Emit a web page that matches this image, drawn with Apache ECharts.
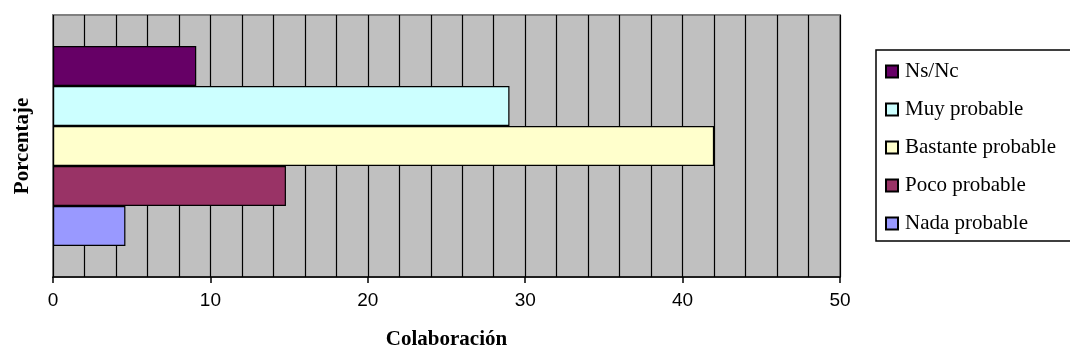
<!DOCTYPE html>
<html>
<head>
<meta charset="utf-8">
<script src="https://cdn.jsdelivr.net/npm/echarts@6/dist/echarts.min.js"></script>
<style>
html,body{margin:0;padding:0;background:#fff;}
#c{width:1070px;height:358px;}
</style>
</head>
<body>
<div id="c"></div>
<script>
// Data (top-to-bottom order in the plot)
var categories = [''];
var seriesNames = ['Ns/Nc', 'Muy probable', 'Bastante probable', 'Poco probable', 'Nada probable'];
var seriesValues = [9.1, 29.0, 42.0, 14.8, 4.6];
var seriesColors = ['#660066', '#CCFFFF', '#FFFFCC', '#993366', '#9999FF'];
var xTicks = [0, 10, 20, 30, 40, 50];

var chart = echarts.init(document.getElementById('c'), null, {renderer: 'canvas'});
var series = seriesNames.map(function (n, i) {
  return {
    name: n,
    type: 'bar',
    barWidth: 40,
    barGap: '0%',
    data: [seriesValues[i]],
    itemStyle: {color: seriesColors[i], borderColor: '#000', borderWidth: 1.2},
    emphasis: {disabled: true},
    z: 3
  };
});
chart.setOption({
  animation: false,
  grid: {
    left: 53, top: 15, width: 787, height: 262,
    outerBoundsMode: 'none', containLabel: false,
    show: true, backgroundColor: '#C0C0C0', borderColor: '#808080', borderWidth: 2
  },
  legend: {
    data: seriesNames,
    orient: 'vertical',
    left: 876, top: 50,
    padding: [11, 60, 7, 9],
    itemWidth: 12, itemHeight: 12,
    itemGap: 17,
    borderColor: '#000', borderWidth: 1.5,
    backgroundColor: '#fff',
    icon: 'rect',
    textStyle: {fontFamily: 'Liberation Serif', fontSize: 21, color: '#000', padding: [0,0,0,2]}
  },
  xAxis: {
    type: 'value', min: 0, max: 50, interval: 10,
    axisLine: {show: true, lineStyle: {color: '#000', width: 1.5}},
    axisTick: {show: true, length: 6, lineStyle: {color: '#000', width: 1.5}},
    axisLabel: {
      fontFamily: 'Liberation Sans', fontSize: 19, color: '#000', margin: 14,
      formatter: function (v) { return xTicks.indexOf(v) >= 0 ? String(v) : ''; }
    },
    splitLine: {show: true, lineStyle: {color: '#000', width: 1.2}},
    minorTick: {show: false, splitNumber: 5},
    minorSplitLine: {show: true, lineStyle: {color: '#000', width: 1.2}},
    name: 'Colaboración', nameLocation: 'middle', nameGap: 52,
    nameTextStyle: {fontFamily: 'Liberation Serif', fontWeight: 'bold', fontSize: 21, color: '#000'}
  },
  yAxis: {
    type: 'category', data: categories,
    axisLine: {show: false}, axisTick: {show: false}, axisLabel: {show: false},
    splitLine: {show: false},
    name: 'Porcentaje', nameLocation: 'middle', nameGap: 20, nameRotate: 90,
    nameTextStyle: {fontFamily: 'Liberation Serif', fontWeight: 'bold', fontSize: 21, color: '#000'}
  },
  series: series
});
</script>
</body>
</html>
